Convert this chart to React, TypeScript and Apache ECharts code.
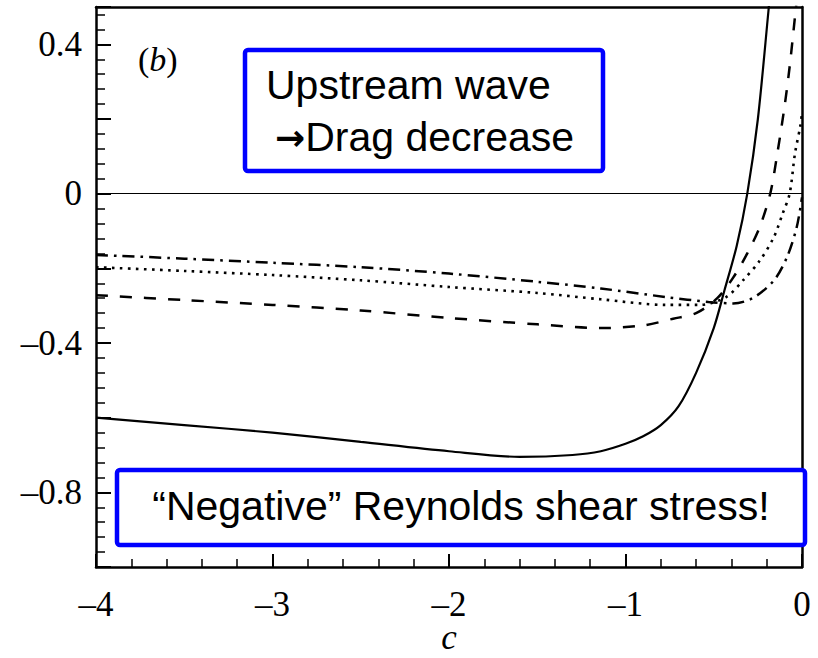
import React, { useEffect, useRef } from "react";
import * as echarts from "echarts";

// Wave speed c and the Reynolds shear stress for four cases
const C_SOLID = [-4, -3.5, -3, -2.5, -2, -1.6, -1.3, -1.14, -1.0, -0.9, -0.8, -0.7, -0.6, -0.5, -0.44, -0.37, -0.31, -0.25, -0.19, -0.17];
const V_SOLID = [-0.6, -0.62, -0.64, -0.665, -0.69, -0.705, -0.7, -0.69, -0.67, -0.65, -0.62, -0.57, -0.48, -0.36, -0.26, -0.14, 0, 0.2, 0.49, 0.59];

const C_DASHED = [-4, -3.5, -3, -2.5, -2, -1.5, -1.14, -0.9, -0.73, -0.6, -0.48, -0.39, -0.31, -0.24, -0.18, -0.14, -0.1, -0.07, -0.034, -0.025];
const V_DASHED = [-0.272, -0.285, -0.298, -0.313, -0.333, -0.35, -0.36, -0.353, -0.335, -0.32, -0.28, -0.225, -0.16, -0.09, 0, 0.107, 0.23, 0.34, 0.5, 0.54];

const C_DOTTED = [-4, -3.5, -3, -2.5, -2, -1.5, -1.14, -0.77, -0.58, -0.43, -0.33, -0.24, -0.16, -0.11, -0.07, -0.04, -0.01, 0];
const V_DOTTED = [-0.197, -0.207, -0.218, -0.232, -0.25, -0.266, -0.283, -0.298, -0.298, -0.277, -0.23, -0.18, -0.117, -0.054, 0, 0.107, 0.18, 0.215];

const C_DASHDOT = [-4, -3.5, -3, -2.5, -2, -1.5, -1.14, -0.77, -0.53, -0.39, -0.28, -0.16, -0.085, -0.03, 0];
const V_DASHDOT = [-0.164, -0.174, -0.185, -0.197, -0.214, -0.236, -0.254, -0.277, -0.29, -0.294, -0.28, -0.233, -0.17, -0.09, -0.01];

const Y_LABELS = [0.4, 0, -0.4, -0.8];
const X_NAME = "c";
const PANEL = "b";
const NOTE_TOP_1 = "Upstream wave";
const NOTE_TOP_2 = "Drag decrease";
const NOTE_BOTTOM = "\u201CNegative\u201D Reynolds shear stress!";

const SERIF = "'Liberation Serif', 'DejaVu Serif', serif";
const SANS = "'Liberation Sans', Arial, 'DejaVu Sans', sans-serif";

const zip = (xs: number[], ys: number[]) => xs.map((x, i) => [x, ys[i]]);
const fmt = (v: number) => {
  const r = Math.round(v * 10) / 10;
  if (r === 0) return "0";
  const s = String(Math.abs(r));
  return r < 0 ? "\u2013" + s : s;
};

const frameLine = { show: true, onZero: false, lineStyle: { color: "#000", width: 2.5 } };

export default function App() {
  const ref = useRef<HTMLDivElement>(null);

  useEffect(() => {
    if (!ref.current) return;
    const chart = echarts.init(ref.current, null, { renderer: "svg" });

    const lineBase = {
      type: "line" as const,
      showSymbol: false,
      smooth: 0.3,
      clip: true,
      silent: true,
    };

    chart.setOption({
      animation: false,
      backgroundColor: "#fff",
      grid: { left: 96, right: 16, top: 7, bottom: 91, outerBoundsMode: "none" },
      xAxis: [
        {
          type: "value",
          position: "bottom",
          min: -4,
          max: 0,
          interval: 1,
          name: X_NAME,
          nameLocation: "middle",
          nameGap: 55,
          nameMoveOverlap: false,
          nameTextStyle: { fontFamily: SERIF, fontStyle: "italic", fontSize: 35, lineHeight: 30, color: "#000" },
          axisLine: frameLine,
          axisTick: { show: true, inside: true, length: 13, lineStyle: { color: "#000", width: 2 } },
          minorTick: { show: true, splitNumber: 5, length: 8, lineStyle: { color: "#000", width: 1.5 } },
          splitLine: { show: false },
          minorSplitLine: { show: false },
          axisLabel: {
            margin: 22,
            fontFamily: SERIF,
            fontSize: 35,
            lineHeight: 30,
            color: "#000",
            formatter: (v: number) => fmt(v),
          },
        },
        {
          // top frame edge
          type: "value",
          position: "top",
          min: -4,
          max: 0,
          axisLine: frameLine,
          axisTick: { show: false },
          axisLabel: { show: false },
          splitLine: { show: false },
        },
      ],
      yAxis: [
        {
          type: "value",
          position: "left",
          min: -1,
          max: 0.5,
          interval: 0.2,
          axisLine: frameLine,
          axisTick: { show: true, inside: true, length: 15, lineStyle: { color: "#000", width: 2 } },
          splitLine: { show: false },
          axisLabel: {
            margin: 14,
            fontFamily: SERIF,
            fontSize: 35,
            color: "#000",
            formatter: (v: number) =>
              Y_LABELS.some((l) => Math.abs(l - v) < 1e-6) ? fmt(v) : "",
          },
        },
        {
          // fine ticks every 0.04
          type: "value",
          position: "left",
          offset: 0,
          min: -1,
          max: 0.5,
          interval: 0.04,
          axisLine: { show: false, onZero: false },
          axisTick: { show: true, inside: true, length: 9, lineStyle: { color: "#000", width: 1.5 } },
          splitLine: { show: false },
          axisLabel: { show: false },
        },
        {
          // right frame edge
          type: "value",
          position: "right",
          min: -1,
          max: 0.5,
          axisLine: frameLine,
          axisTick: { show: false },
          axisLabel: { show: false },
          splitLine: { show: false },
        },
      ],
      series: [
        {
          ...lineBase,
          name: "solid",
          data: zip(C_SOLID, V_SOLID),
          lineStyle: { color: "#000", width: 2.2, type: "solid" },
          markLine: {
            silent: true,
            symbol: "none",
            label: { show: false },
            lineStyle: { color: "#000", width: 1.2, type: "solid" },
            data: [{ yAxis: 0 }],
          },
        },
        {
          ...lineBase,
          name: "dashed",
          data: zip(C_DASHED, V_DASHED),
          lineStyle: { color: "#000", width: 2.5, type: [12, 12] },
        },
        {
          ...lineBase,
          name: "dotted",
          data: zip(C_DOTTED, V_DOTTED),
          lineStyle: { color: "#000", width: 2.6, type: [2.6, 5.4] },
        },
        {
          ...lineBase,
          name: "dashdot",
          data: zip(C_DASHDOT, V_DASHDOT),
          lineStyle: { color: "#000", width: 2.5, type: [12, 6, 2.6, 6] },
        },
      ],
      graphic: [
        {
          type: "text",
          x: 138,
          y: 42,
          z: 10,
          style: {
            text: "{p|(}{b|" + PANEL + "}{p|)}",
            rich: {
              p: { fontFamily: SERIF, fontSize: 34, fill: "#000" },
              b: { fontFamily: SERIF, fontSize: 34, fontStyle: "italic", fill: "#000" },
            },
          },
        },
        {
          type: "rect",
          z: 10,
          shape: { x: 245, y: 50, width: 358, height: 121, r: 3 },
          style: { fill: "#fff", stroke: "#0000ff", lineWidth: 4.5 },
        },
        {
          type: "text",
          z: 11,
          x: 266,
          y: 85,
          style: {
            text: NOTE_TOP_1,
            fontFamily: SANS,
            fontSize: 41,
            fill: "#000",
            align: "left",
            verticalAlign: "middle",
          },
        },
        {
          type: "text",
          z: 11,
          x: 275,
          y: 137,
          style: {
            text: "{a|\u2192}{t|" + NOTE_TOP_2 + "}",
            verticalAlign: "middle",
            rich: {
              a: { fontFamily: "'DejaVu Sans', sans-serif", fontWeight: "bold", fontSize: 36, fill: "#000" },
              t: { fontFamily: SANS, fontSize: 41, fill: "#000" },
            },
          },
        },
        {
          type: "rect",
          z: 10,
          shape: { x: 117, y: 470, width: 688, height: 75, r: 3 },
          style: { fill: "#fff", stroke: "#0000ff", lineWidth: 4.5 },
        },
        {
          type: "text",
          z: 11,
          x: 461,
          y: 506,
          style: {
            text: NOTE_BOTTOM,
            fontFamily: SANS,
            fontSize: 41,
            fill: "#000",
            align: "center",
            verticalAlign: "middle",
          },
        },
      ],
    });

    return () => chart.dispose();
  }, []);

  return (
    <div
      ref={ref}
      style={{ position: "fixed", left: 0, top: 0, width: 818, height: 658 }}
    />
  );
}
